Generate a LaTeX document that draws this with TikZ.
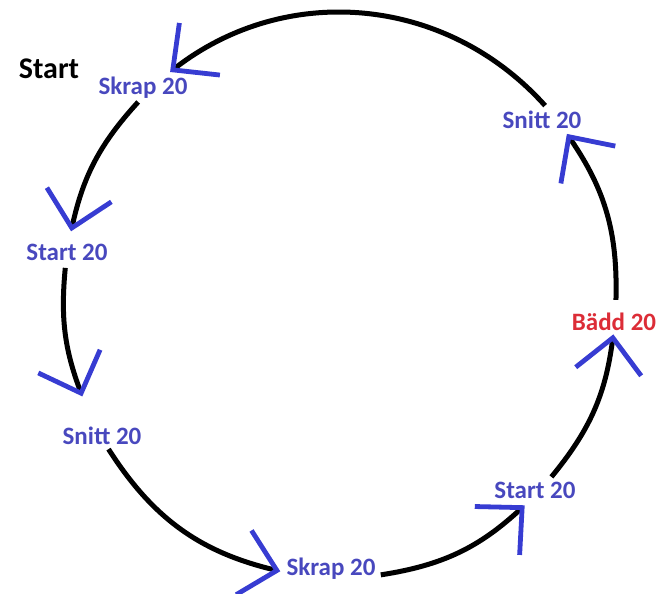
\documentclass[tikz,border=0pt]{standalone}
\usepackage{fontspec}
\setmainfont{Carlito}
\usetikzlibrary{arrows.meta,positioning,calc}
\definecolor{stepblue}{RGB}{72,72,190}
\definecolor{tipblue}{RGB}{55,60,210}
\definecolor{bedred}{RGB}{220,45,55}

\begin{document}
\begin{tikzpicture}[
    x=0.5pt, y=0.5pt,
    lbl/.style={font=\fontsize{12.5}{14}\selectfont\bfseries, text=stepblue, inner sep=1pt},
    title/.style={font=\fontsize{15}{17}\selectfont\bfseries, text=black, inner sep=1pt},
    flow/.style={line width=2.5pt, -{Straight Barb[color=tipblue, length=17pt, width=33pt, line width=2.4pt]}}
]
\useasboundingbox (0,0) rectangle (661,594);
\coordinate (C) at (340,299);

% points on the ring (out = where a leg leaves a step, in = arrow tip)
\coordinate (snittA-out) at ($(C)+(42:276 and 283)$);
\coordinate (skrapA-in)  at ($(C)+(128:276 and 283)$);
\coordinate (skrapA-out) at ($(C)+(137:276 and 283)$);
\coordinate (startA-in)  at ($(C)+(167:276 and 283)$);
\coordinate (startA-out) at ($(C)+(174.5:276 and 283)$);
\coordinate (snittB-in)  at ($(C)+(201:276 and 283)$);
\coordinate (snittB-out) at ($(C)+(213:276 and 283)$);
\coordinate (skrapB-in)  at ($(C)+(257.5:276 and 283)$);
\coordinate (skrapB-out) at ($(C)+(278.5:276 and 283)$);
\coordinate (startB-in)  at ($(C)+(312:276 and 283)$);
\coordinate (startB-out) at ($(C)+(320:276 and 283)$);
\coordinate (badd-in)    at ($(C)+(352:276 and 283)$);
\coordinate (badd-out)   at ($(C)+(359:276 and 283)$);
\coordinate (snittA-in)  at ($(C)+(394.7:276 and 283)$);

% steps
\node[title] (start) at (49,525) {Start};
\node[lbl] (skrapA) at (143,506) {Skrap 20};
\node[lbl] (startA) at (67,342) {Start 20};
\node[lbl] (snittB) at (102,158) {Snitt 20};
\node[lbl] (skrapB) at (331,25) {Skrap 20};
\node[lbl] (startB) at (535,104) {Start 20};
\node[lbl, text=bedred] (badd) at (614,272) {Bädd 20};
\node[lbl] (snittA) at (542,474) {Snitt 20};

% the ring
\draw[flow] (snittA-out) to[bend right=43] (skrapA-in);
\draw[flow] (skrapA-out) to[bend right=15] (startA-in);
\draw[flow] (startA-out) to[bend right=13] (snittB-in);
\draw[flow] (snittB-out) to[bend right=22] (skrapB-in);
\draw[flow] (skrapB-out) to[bend right=17] (startB-in);
\draw[flow] (startB-out) to[bend right=16] (badd-in);
\draw[flow] (badd-out) to[bend right=18] (snittA-in);

\end{tikzpicture}
\end{document}
